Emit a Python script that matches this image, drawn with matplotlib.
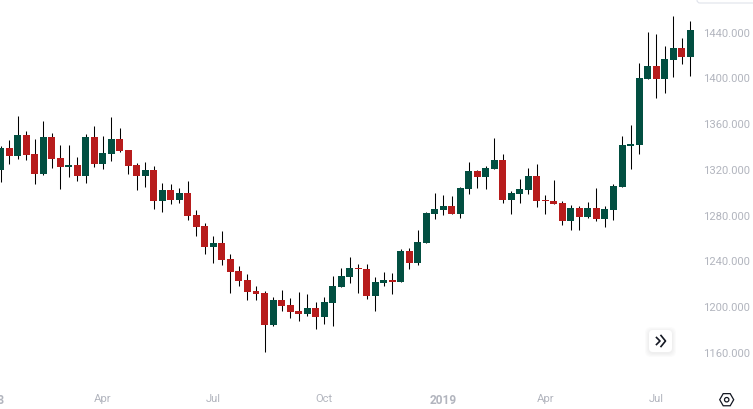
import matplotlib
matplotlib.use("Agg")
import math
import matplotlib.pyplot as plt
from matplotlib.patches import FancyBboxPatch, RegularPolygon, Circle

# define constants
UP_COLOR = "#024f41"
DOWN_COLOR = "#b71c1c"
LABEL_COLOR = "#b2b5be"
ICON_COLOR = "#131722"

# weekly candles, prices
opens = [
    1319.4, 1338.6, 1331.6, 1350.0, 1333.4, 1315.9, 1348.2, 1329.9, 1322.0, 1323.7,
    1314.1, 1348.2, 1324.6, 1333.4, 1346.5, 1336.8, 1323.7, 1314.1, 1319.4, 1292.3,
    1301.9, 1293.2, 1299.3, 1280.0, 1270.4, 1252.1, 1255.6, 1241.6, 1231.1, 1223.2,
    1213.6, 1211.9, 1183.9, 1205.7, 1201.4, 1196.1, 1193.5, 1198.7, 1190.9, 1203.1,
    1217.1, 1225.8, 1233.7, 1232.8, 1209.2, 1220.6, 1223.2, 1221.5, 1248.6, 1238.1,
    1255.6, 1280.9, 1284.4, 1287.9, 1280.9, 1302.8, 1318.5, 1313.3, 1320.2, 1328.1,
    1293.2, 1298.4, 1301.9, 1314.1, 1293.2, 1292.3, 1290.5, 1274.8, 1286.2, 1278.3,
    1286.2, 1276.5, 1284.4, 1304.5, 1340.3, 1341.2, 1398.9, 1410.3, 1398.9, 1415.5,
    1426.0, 1418.1,
]
closes = [
    1338.6, 1331.6, 1350.0, 1332.5, 1315.9, 1348.2, 1329.0, 1322.0, 1323.7, 1314.1,
    1348.2, 1324.6, 1334.2, 1346.5, 1336.0, 1322.9, 1314.1, 1319.4, 1292.3, 1301.9,
    1293.2, 1299.3, 1279.2, 1269.5, 1252.1, 1255.6, 1240.7, 1230.2, 1222.3, 1212.7,
    1211.0, 1183.9, 1205.7, 1200.5, 1195.2, 1193.5, 1198.7, 1190.9, 1204.0, 1218.0,
    1226.7, 1233.7, 1232.8, 1209.2, 1221.5, 1223.2, 1221.5, 1248.6, 1238.1, 1256.4,
    1281.8, 1285.3, 1287.9, 1280.9, 1303.6, 1318.5, 1313.3, 1321.1, 1328.1, 1293.2,
    1299.3, 1302.8, 1314.1, 1292.3, 1292.3, 1289.7, 1274.8, 1286.2, 1278.3, 1286.2,
    1276.5, 1285.3, 1305.4, 1341.2, 1342.1, 1399.8, 1410.3, 1398.9, 1416.4, 1426.0,
    1418.1, 1441.7,
]
highs = [
    1340.3, 1345.6, 1366.6, 1353.5, 1346.5, 1362.2, 1351.7, 1341.2, 1341.2, 1330.7,
    1350.8, 1357.8, 1349.1, 1365.7, 1356.1, 1336.8, 1325.5, 1326.4, 1322.9, 1308.0,
    1307.1, 1303.6, 1309.8, 1284.4, 1273.0, 1261.7, 1266.0, 1246.0, 1235.4, 1228.5,
    1218.0, 1213.6, 1208.3, 1214.5, 1207.5, 1212.7, 1211.0, 1204.0, 1208.3, 1226.7,
    1233.7, 1243.3, 1237.2, 1237.2, 1225.8, 1230.2, 1229.3, 1250.3, 1251.2, 1266.9,
    1282.7, 1299.3, 1297.5, 1296.6, 1304.5, 1326.4, 1319.4, 1322.9, 1347.4, 1333.4,
    1301.0, 1311.5, 1321.1, 1324.6, 1297.5, 1310.6, 1292.3, 1288.8, 1287.9, 1291.4,
    1303.6, 1287.9, 1307.1, 1349.1, 1358.7, 1412.9, 1440.0, 1438.2, 1427.8, 1454.0,
    1434.8, 1449.6,
]
lows = [
    1308.9, 1324.6, 1329.0, 1328.1, 1307.1, 1315.0, 1321.1, 1302.8, 1313.2, 1309.8,
    1308.0, 1322.0, 1320.2, 1327.2, 1335.1, 1315.9, 1301.9, 1304.5, 1285.3, 1282.7,
    1289.7, 1290.5, 1275.7, 1261.7, 1246.0, 1238.1, 1236.3, 1211.8, 1217.9, 1205.7,
    1205.7, 1160.3, 1183.0, 1196.1, 1190.0, 1187.4, 1191.7, 1180.4, 1184.8, 1183.0,
    1217.1, 1220.6, 1211.9, 1206.6, 1196.1, 1218.0, 1211.0, 1221.5, 1232.8, 1236.3,
    1255.6, 1276.5, 1280.0, 1280.9, 1277.4, 1298.4, 1303.6, 1302.8, 1320.2, 1290.5,
    1280.9, 1290.5, 1298.4, 1287.0, 1280.9, 1289.7, 1271.3, 1266.9, 1266.9, 1277.4,
    1274.8, 1269.5, 1275.7, 1304.5, 1320.2, 1333.4, 1398.9, 1382.3, 1386.7, 1400.7,
    1412.0, 1401.6,
]

# axis labels, the candle index each date label sits on
date_ticks = [-1.1, 12, 25, 38, 52, 64, 77]
date_labels = ["2018", "Apr", "Jul", "Oct", "2019", "Apr", "Jul"]
price_ticks = [1160, 1200, 1240, 1280, 1320, 1360, 1400, 1440]

plt.rcParams["font.family"] = ["Roboto", "DejaVu Sans"]

fig = plt.figure(figsize=(7.53, 4.10), dpi=100, facecolor="white")

# plot area starts left of the picture so the 2018 label gets cut off like in the original
ax = fig.add_axes([-30 / 753, 25 / 410, 727 / 753, 385 / 410])
ax.set_xlim(-3.6, 81.81)
ax.set_ylim(1132.0, 1468.6)

for i in range(len(opens)):
    color = UP_COLOR if closes[i] >= opens[i] else DOWN_COLOR
    ax.vlines(i, lows[i], highs[i], color="black", linewidth=0.75, zorder=2)
    ax.bar(i, abs(closes[i] - opens[i]), bottom=min(opens[i], closes[i]),
           width=0.82, color=color, linewidth=0, zorder=3)

ax.yaxis.tick_right()
ax.set_yticks(price_ticks)
ax.set_yticklabels([f"{p}.000" for p in price_ticks])
ax.set_xticks(date_ticks)
ax.set_xticklabels(date_labels)
ax.tick_params(axis="both", length=0, labelcolor=LABEL_COLOR, labelsize=8.1)
ax.tick_params(axis="y", pad=4.5)
ax.tick_params(axis="x", pad=6.5)
for label, text in zip(ax.get_xticklabels(), date_labels):
    if text in ("2018", "2019"):
        label.set_fontweight("bold")
        label.set_fontsize(8.6)
for spine in ax.spines.values():
    spine.set_visible(False)

# widgets of the chart, an overlay in pixel coordinates
overlay = fig.add_axes([0, 0, 1, 1], zorder=5)
overlay.set_xlim(0, 753)
overlay.set_ylim(410, 0)
overlay.axis("off")

# scroll button with a soft shadow
for grow in [4, 3, 2, 1]:
    overlay.add_patch(FancyBboxPatch((649 - grow, 331 - grow + 1), 23 + 2 * grow, 22 + 2 * grow,
                                     boxstyle="round,pad=0,rounding_size=6",
                                     fc="#9a9aa5", ec="none", alpha=0.04))
overlay.add_patch(FancyBboxPatch((649, 331), 23, 22, boxstyle="round,pad=0,rounding_size=4",
                                 fc="white", ec="none"))
overlay.plot([656.5, 660, 656.5], [338.5, 342, 345.5], color=ICON_COLOR, linewidth=1.2)
overlay.plot([661, 665.5, 661], [336.5, 342, 347.5], color=ICON_COLOR, linewidth=1.2)

# settings icon, hexagon with points to the left and right
overlay.add_patch(RegularPolygon((726.7, 400.7), 6, radius=7, orientation=math.pi / 6,
                                 fc="none", ec=ICON_COLOR, linewidth=0.9))
overlay.add_patch(Circle((726.7, 400.7), 2.2, fc="none", ec=ICON_COLOR, linewidth=0.9))

# corner of the box cut off at the top right
overlay.add_patch(FancyBboxPatch((697, -10), 75, 14, boxstyle="round,pad=0,rounding_size=3",
                                 fc="white", ec="#e0e3eb", linewidth=0.8))

fig.savefig("out.png", dpi=100)
